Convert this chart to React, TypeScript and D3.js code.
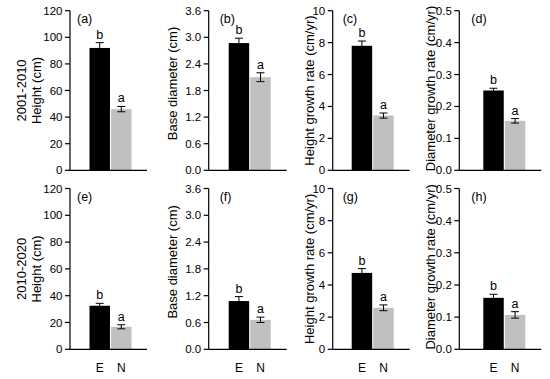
import React from "react";
import * as d3 from "d3";

// groups and panel texts
const categories = ["E", "N"];
const panelLetters = ["(a)", "(b)", "(c)", "(d)", "(e)", "(f)", "(g)", "(h)"];
const yTitles = ["Height (cm)", "Base diameter (cm)", "Height growth rate (cm/yr)", "Diameter growth rate (cm/yr)"];
const periods = ["2001-2010", "2010-2020"];

// y axis per column
const yMax = [120, 3.6, 10, 0.5];
const yTicks = [
  [0, 20, 40, 60, 80, 100, 120],
  [0, 0.6, 1.2, 1.8, 2.4, 3.0, 3.6],
  [0, 2, 4, 6, 8, 10],
  [0, 0.1, 0.2, 0.3, 0.4, 0.5],
];
const tickFormats = ["d", ".1f", "d", ".1f"];

// values per panel, a..h
const meanE = [92, 2.87, 7.8, 0.25, 32.5, 1.08, 4.75, 0.16];
const errE = [4, 0.11, 0.3, 0.007, 1.8, 0.1, 0.27, 0.011];
const meanN = [46, 2.1, 3.43, 0.155, 16.8, 0.66, 2.58, 0.107];
const errN = [2, 0.1, 0.16, 0.007, 1.5, 0.06, 0.18, 0.01];
const sigE = ["b", "b", "b", "b", "b", "b", "b", "b"];
const sigN = ["a", "a", "a", "a", "a", "a", "a", "a"];

// layout
const W = 550;
const H = 379;
const cols = [
  { x: 70, w: 77, bar: 19.5, title: -34, shift: 0, label: 7 },
  { x: 208.7, w: 78, bar: 20, title: -36, shift: -7, label: 11 },
  { x: 332.7, w: 77, bar: 19, title: -23.4, shift: 0, label: 10 },
  { x: 459.3, w: 82, bar: 24, title: -29.3, shift: -2, label: 12 },
];
const rows = [
  { top: 10.7, bottom: 170.3 },
  { top: 188.5, bottom: 349.3 },
];
const font = "'Liberation Sans', Arial, sans-serif";
const fills = ["#000000", "#c0c0c0"];

const Panel = ({ idx }: { idx: number }) => {
  const ci = idx % 4;
  const ri = Math.floor(idx / 4);
  const c = cols[ci];
  const r = rows[ri];

  const y = d3.scaleLinear().domain([0, yMax[ci]]).range([r.bottom, r.top]);
  const x = d3
    .scaleBand()
    .domain(categories)
    .range([c.x + c.bar, c.x + c.bar + 42])
    .paddingInner(0.05);
  const fmt = d3.format(tickFormats[ci]);

  const bars = [
    { cat: "E", mean: meanE[idx], err: errE[idx], sig: sigE[idx] },
    { cat: "N", mean: meanN[idx], err: errN[idx], sig: sigN[idx] },
  ];
  const midY = (r.top + r.bottom) / 2;

  return (
    <g>
      {bars.map((d, i) => {
        const bx = x(d.cat)!;
        const cx = bx + x.bandwidth() / 2;
        const top = y(d.mean + d.err);
        const low = y(d.mean - d.err);
        return (
          <g key={d.cat}>
            <rect x={bx} y={y(d.mean)} width={x.bandwidth()} height={r.bottom - y(d.mean)} fill={fills[i]} />
            <line x1={cx} x2={cx} y1={low} y2={top} stroke="#000" strokeWidth={1} />
            <line x1={cx - 4} x2={cx + 4} y1={top} y2={top} stroke="#000" strokeWidth={1} />
            <line x1={cx - 4} x2={cx + 4} y1={low} y2={low} stroke="#000" strokeWidth={1} />
            <text x={cx} y={top - 4} textAnchor="middle" fontSize={12.5} fill="#000">
              {d.sig}
            </text>
            {ri === 1 && (
              <text x={cx} y={r.bottom + 23} textAnchor="middle" fontSize={12} fill="#000">
                {d.cat}
              </text>
            )}
          </g>
        );
      })}
      {/* y axis */}
      <line x1={c.x} x2={c.x} y1={r.top} y2={r.bottom} stroke="#000" strokeWidth={1.2} />
      {yTicks[ci].map((t) => (
        <g key={t}>
          <line x1={c.x - 5} x2={c.x} y1={y(t)} y2={y(t)} stroke="#000" strokeWidth={1.2} />
          <text x={c.x - 7.5} y={y(t)} dy="0.35em" textAnchor="end" fontSize={11.5} fill="#000">
            {fmt(t)}
          </text>
        </g>
      ))}
      {/* x axis */}
      <line x1={c.x} x2={c.x + c.w} y1={r.bottom} y2={r.bottom} stroke="#000" strokeWidth={1.2} />
      <text x={c.x + c.label} y={r.top + 12.5} fontSize={12.5} fill="#000">
        {panelLetters[idx]}
      </text>
      <text
        transform={`translate(${c.x + c.title},${midY + c.shift}) rotate(-90)`}
        textAnchor="middle"
        dy="0.35em"
        fontSize={13}
        fill="#000"
      >
        {yTitles[ci]}
      </text>
      {ci === 0 && (
        <text
          transform={`translate(${c.x - 48.3},${midY}) rotate(-90)`}
          textAnchor="middle"
          dy="0.35em"
          fontSize={13}
          fill="#000"
        >
          {periods[ri]}
        </text>
      )}
    </g>
  );
};

export default function App() {
  return (
    <svg
      width={W}
      height={H}
      viewBox={`0 0 ${W} ${H}`}
      style={{ position: "absolute", left: 0, top: 0, background: "#fff", fontFamily: font }}
    >
      {panelLetters.map((_, i) => (
        <Panel key={i} idx={i} />
      ))}
    </svg>
  );
}
